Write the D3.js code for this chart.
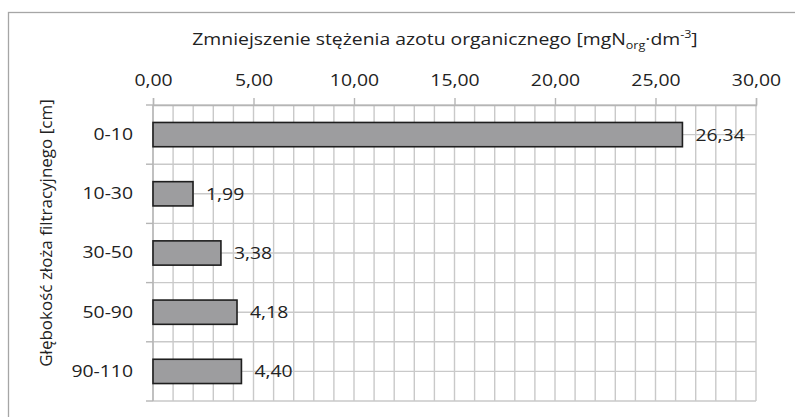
<!DOCTYPE html>
<html>
<head>
<meta charset="utf-8">
<script src="https://cdn.jsdelivr.net/npm/d3@7"></script>
<style>
  html, body { margin: 0; padding: 0; background: #fff; }
  svg { display: block; font-family: "Open Sans", "Noto Sans", sans-serif; }
</style>
</head>
<body>
<svg id="chart" width="795" height="417"></svg>
<script>
// Filter bed depth layers and organic nitrogen concentration decrease
const categories = ["0-10", "10-30", "30-50", "50-90", "90-110"];
const values = [26.34, 1.99, 3.38, 4.18, 4.40];
const tickValues = [0, 5, 10, 15, 20, 25, 30];

const svg = d3.select("#chart");
const W = 795, H = 417;
const plot = { left: 153, right: 756, top: 105, bottom: 401 };
const fontSize = 17;
const stretch = 1.14;          // horizontal text widening
const gridColor = "#c9c9c9";
const axisColor = "#b5b5b5";
const textColor = "#222";

const fmt = d => d.toFixed(2).replace(".", ",");

const x = d3.scaleLinear().domain([0, 30]).range([plot.left, plot.right]);
const y = d3.scaleBand().domain(categories).range([plot.top, plot.bottom]).padding(0);

// Outer chart frame
svg.append("rect")
  .attr("x", 8.5).attr("y", 12.5)
  .attr("width", W + 20).attr("height", H + 20)
  .attr("fill", "none").attr("stroke", "#a6a6a6").attr("stroke-width", 1.3);

// Vertical gridlines every 1 unit
const grid = svg.append("g").attr("stroke", gridColor).attr("stroke-width", 1.4);
grid.selectAll("line.v")
  .data(x.ticks(30))
  .join("line")
  .attr("class", "v")
  .attr("x1", d => x(d)).attr("x2", d => x(d))
  .attr("y1", plot.top).attr("y2", plot.bottom);

// Horizontal gridlines at category boundaries and centres
const hLines = [];
categories.forEach(c => {
  hLines.push(y(c));
  hLines.push(y(c) + y.bandwidth() / 2);
});
hLines.push(plot.bottom);
grid.selectAll("line.h")
  .data(hLines)
  .join("line")
  .attr("class", "h")
  .attr("x1", plot.left).attr("x2", plot.right)
  .attr("y1", d => d).attr("y2", d => d);

// Category axis ticks (left side, at boundaries)
const catBounds = categories.map(c => y(c)).concat([plot.bottom]);
svg.append("g").attr("stroke", axisColor).attr("stroke-width", 1.4)
  .selectAll("line")
  .data(catBounds)
  .join("line")
  .attr("x1", plot.left - 7).attr("x2", plot.left)
  .attr("y1", d => d).attr("y2", d => d);

// Value axis on top
const xAxis = svg.append("g")
  .attr("transform", `translate(0,${plot.top})`)
  .call(d3.axisTop(x).tickValues(tickValues).tickSize(7).tickPadding(12).tickFormat(fmt));
xAxis.select(".domain").attr("stroke", axisColor).attr("stroke-width", 1.4);
xAxis.selectAll(".tick line").attr("stroke", axisColor).attr("stroke-width", 1.4);
xAxis.selectAll(".tick text")
  .attr("font-size", fontSize).attr("font-family", "Open Sans, sans-serif").attr("fill", textColor)
  .attr("transform", `scale(${stretch},1)`);

// Left axis line
svg.append("line")
  .attr("x1", plot.left).attr("x2", plot.left)
  .attr("y1", plot.top).attr("y2", plot.bottom)
  .attr("stroke", axisColor).attr("stroke-width", 1.4);

// Category labels
const catPad = 20;
const yAxis = svg.append("g")
  .attr("transform", `translate(${plot.left},0)`)
  .call(d3.axisLeft(y).tickSize(0).tickPadding(catPad));
yAxis.select(".domain").remove();
yAxis.selectAll(".tick text")
  .attr("font-size", fontSize).attr("font-family", "Open Sans, sans-serif").attr("fill", textColor)
  .attr("x", -catPad / stretch)
  .attr("transform", `scale(${stretch},1)`);

// Bars
const barH = y.bandwidth() * 0.41;
svg.append("g").selectAll("rect")
  .data(values)
  .join("rect")
  .attr("x", x(0))
  .attr("y", (d, i) => y(categories[i]) + (y.bandwidth() - barH) / 2)
  .attr("width", d => x(d) - x(0))
  .attr("height", barH)
  .attr("fill", "#9d9d9f")
  .attr("stroke", "#1e1e1e")
  .attr("stroke-width", 1.6);

// Value labels
svg.append("g").selectAll("text")
  .data(values)
  .join("text")
  .attr("transform", (d, i) =>
    `translate(${x(d) + 13},${y(categories[i]) + y.bandwidth() / 2}) scale(${stretch},1)`)
  .attr("dy", "0.35em")
  .attr("font-size", fontSize)
  .attr("fill", textColor)
  .text(fmt);

// Axis titles
const title = svg.append("text")
  .attr("transform", `translate(445,45) scale(${stretch},1)`)
  .attr("text-anchor", "middle")
  .attr("font-size", fontSize)
  .attr("fill", textColor);
title.append("tspan").text("Zmniejszenie stężenia azotu organicznego [mgN");
title.append("tspan").attr("font-size", 11).attr("dy", 4).text("org");
title.append("tspan").attr("dy", -4).text("·dm");
title.append("tspan").attr("font-size", 11).attr("dy", -7).text("-3");
title.append("tspan").attr("dy", 7).text("]");

svg.append("text")
  .attr("transform", "translate(52,233) rotate(-90)")
  .attr("text-anchor", "middle")
  .attr("font-size", fontSize)
  .attr("fill", textColor)
  .text("Głębokość złoża filtracyjnego [cm]");
</script>
</body>
</html>
